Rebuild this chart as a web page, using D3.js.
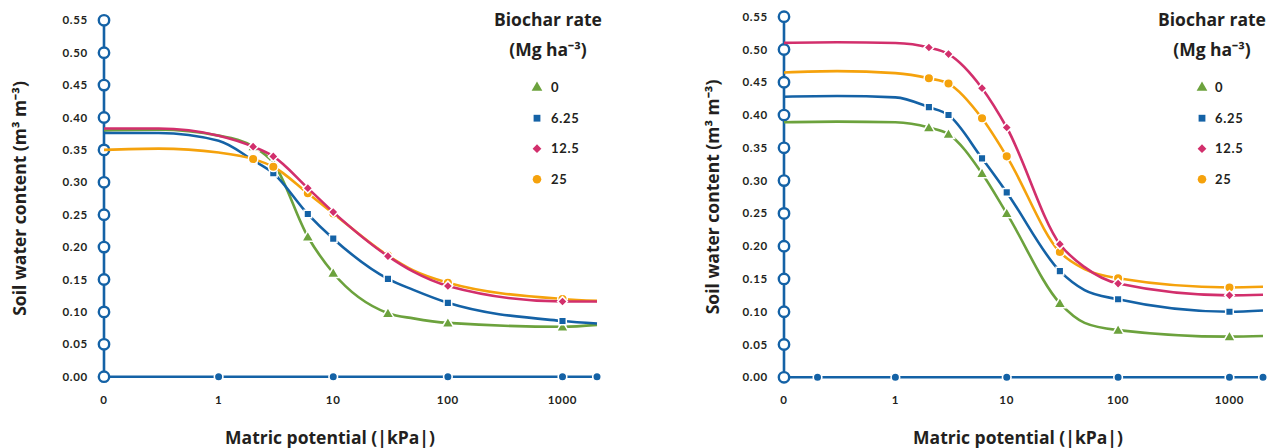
<!DOCTYPE html>
<html>
<head>
<meta charset="utf-8">
<script src="https://cdn.jsdelivr.net/npm/d3@7"></script>
<style>
  body { margin: 0; background: #fff; }
  svg { display: block; font-family: Lato, "Open Sans", sans-serif; }
  .tick-label { font-size: 11.5px; font-weight: 700; fill: #231f20; letter-spacing: 0.7px; }
  .title { font-family: "Open Sans", sans-serif; font-size: 17.5px; font-weight: 700; fill: #231f20; }
  .legend-label { font-size: 13px; font-weight: 700; fill: #231f20; letter-spacing: 0.7px; }
</style>
</head>
<body>
<svg id="chart" width="1276" height="448"></svg>
<script>
// Matric potential (|kPa|) where curve values were read; 0.1 is drawn as "0"
const potentials = [0.1, 0.3, 1, 2, 3, 6, 10, 30, 50, 100, 1000, 2000]
// which of those points carry a marker (measured points)
const measured = [2, 3, 6, 10, 30, 100, 1000]

const rates = ["0", "6.25", "12.5", "25"]

// Left panel, soil water content (m3 m-3)
const leftRate0    = [0.380, 0.381, 0.372, 0.355, 0.330, 0.216, 0.160, 0.098, 0.090, 0.083, 0.077, 0.080]
const leftRate625  = [0.376, 0.376, 0.364, 0.334, 0.314, 0.251, 0.213, 0.151, 0.134, 0.114, 0.086, 0.082]
const leftRate125  = [0.383, 0.383, 0.372, 0.355, 0.340, 0.291, 0.254, 0.186, 0.162, 0.140, 0.116, 0.116]
const leftRate25   = [0.350, 0.352, 0.346, 0.336, 0.324, 0.283, 0.252, 0.187, 0.164, 0.145, 0.120, 0.117]

// Right panel
const rightRate0   = [0.389, 0.390, 0.389, 0.381, 0.371, 0.311, 0.250, 0.113, 0.083, 0.072, 0.062, 0.063]
const rightRate625 = [0.428, 0.429, 0.427, 0.412, 0.400, 0.334, 0.282, 0.162, 0.133, 0.119, 0.100, 0.102]
const rightRate125 = [0.510, 0.511, 0.510, 0.503, 0.493, 0.441, 0.381, 0.203, 0.168, 0.143, 0.125, 0.126]
const rightRate25  = [0.465, 0.467, 0.464, 0.456, 0.448, 0.395, 0.337, 0.191, 0.165, 0.151, 0.137, 0.138]

const yTicks = [0, 0.05, 0.10, 0.15, 0.20, 0.25, 0.30, 0.35, 0.40, 0.45, 0.50, 0.55]
const xTickValues = [0.1, 1, 10, 100, 1000]
const xTickLabels = ["0", "1", "10", "100", "1000"]
const leftXDots = [1, 10, 100, 1000, 2000]
const rightXDots = [0.2, 1, 10, 100, 1000, 2000]

const axisBlue = "#1462a6"
const colors = ["#6ca23d", "#1462a6", "#d22f6c", "#f5a20c"]
// diamond is a square turned 45 degrees
const symbols = [d3.symbolTriangle, d3.symbolSquare, d3.symbolSquare, d3.symbolCircle]
const symbolRotate = [0, 0, 45, 0]
const symbolSizes = [62, 58, 48, 72]
const drawOrder = [0, 1, 3, 2]

const svg = d3.select("#chart")

drawPanel({
    x0: 104, x1: 597, yTop: 20.3, yBottom: 376.7,
    series: [leftRate0, leftRate625, leftRate125, leftRate25],
    xDots: leftXDots, xTitleX: 330,
    yTitleX: 20, legendX: 548, markerX: 537, labelX: 551
})

drawPanel({
    x0: 784, x1: 1263, yTop: 16.7, yBottom: 377.3,
    series: [rightRate0, rightRate625, rightRate125, rightRate25],
    xDots: rightXDots, xTitleX: 1018,
    yTitleX: 713, legendX: 1212, markerX: 1202, labelX: 1215
})

function drawPanel(p) {
    const g = svg.append("g")

    const x = d3.scaleLog().domain([0.1, 2000]).range([p.x0, p.x1])
    const y = d3.scaleLinear().domain([0, 0.55]).range([p.yBottom, p.yTop])

    // axis lines
    g.append("line")
        .attr("x1", p.x0).attr("x2", p.x1)
        .attr("y1", y(0)).attr("y2", y(0))
        .attr("stroke", axisBlue).attr("stroke-width", 2.6)
    g.append("line")
        .attr("x1", p.x0).attr("x2", p.x0)
        .attr("y1", y(0)).attr("y2", y(0.55))
        .attr("stroke", axisBlue).attr("stroke-width", 2.6)

    // x dots
    g.selectAll(".xdot").data(p.xDots).enter().append("circle")
        .attr("cx", d => x(d)).attr("cy", y(0)).attr("r", 4.3)
        .attr("fill", axisBlue).attr("stroke", "#fff").attr("stroke-width", 1.6)

    // y open circles
    g.selectAll(".ydot").data(yTicks).enter().append("circle")
        .attr("cx", p.x0).attr("cy", d => y(d)).attr("r", 5.2)
        .attr("fill", "#fff").attr("stroke", axisBlue).attr("stroke-width", 2.4)

    // y tick labels
    g.selectAll(".ylab").data(yTicks).enter().append("text")
        .attr("class", "tick-label")
        .attr("x", p.x0 - 16).attr("y", d => y(d))
        .attr("dy", "0.35em").attr("text-anchor", "end")
        .text(d => d3.format(".2f")(d))

    // x tick labels
    g.selectAll(".xlab").data(xTickValues).enter().append("text")
        .attr("class", "tick-label")
        .attr("x", d => x(d)).attr("y", 400)
        .attr("dy", "0.35em").attr("text-anchor", "middle")
        .text((d, i) => xTickLabels[i])

    // axis titles
    g.append("text").attr("class", "title")
        .attr("transform", `translate(${p.yTitleX},${(y(0) + y(0.55)) / 2}) rotate(-90)`)
        .attr("text-anchor", "middle").attr("dy", "0.35em")
        .text("Soil water content (m³ m⁻³)")
    g.append("text").attr("class", "title")
        .attr("x", p.xTitleX).attr("y", 438)
        .attr("text-anchor", "middle").attr("dy", "0.35em")
        .text("Matric potential (|kPa|)")

    // curves
    const line = d3.line()
        .x((d, i) => x(potentials[i]))
        .y(d => y(d))
        .curve(d3.curveMonotoneX)

    drawOrder.forEach(k => {
        const vals = p.series[k]
        g.append("path")
            .attr("d", line(vals))
            .attr("fill", "none")
            .attr("stroke", colors[k])
            .attr("stroke-width", 2.6)

        const pts = potentials.map((pt, i) => [pt, vals[i]]).filter(d => measured.includes(d[0]))
        g.selectAll(null).data(pts).enter().append("path")
            .attr("transform", d => `translate(${x(d[0])},${y(d[1]) + (k === 0 ? 1 : 0)}) rotate(${symbolRotate[k]})`)
            .attr("d", d3.symbol().type(symbols[k]).size(symbolSizes[k]))
            .attr("fill", colors[k])
            .attr("stroke", "#fff").attr("stroke-width", 1.5)
    })

    // legend
    g.append("text").attr("class", "title")
        .attr("x", p.legendX).attr("y", 20).attr("dy", "0.35em")
        .attr("text-anchor", "middle").text("Biochar rate")
    g.append("text").attr("class", "title")
        .attr("x", p.legendX).attr("y", 50).attr("dy", "0.35em")
        .attr("text-anchor", "middle").text("(Mg ha⁻³)")

    rates.forEach((r, k) => {
        const ly = 87.7 + k * 30.5
        g.append("path")
            .attr("transform", `translate(${p.markerX},${ly}) rotate(${symbolRotate[k]})`)
            .attr("d", d3.symbol().type(symbols[k]).size(symbolSizes[k] * 0.8))
            .attr("fill", colors[k])
        g.append("text").attr("class", "legend-label")
            .attr("x", p.labelX).attr("y", ly).attr("dy", "0.35em")
            .text(r)
    })
}
</script>
</body>
</html>
